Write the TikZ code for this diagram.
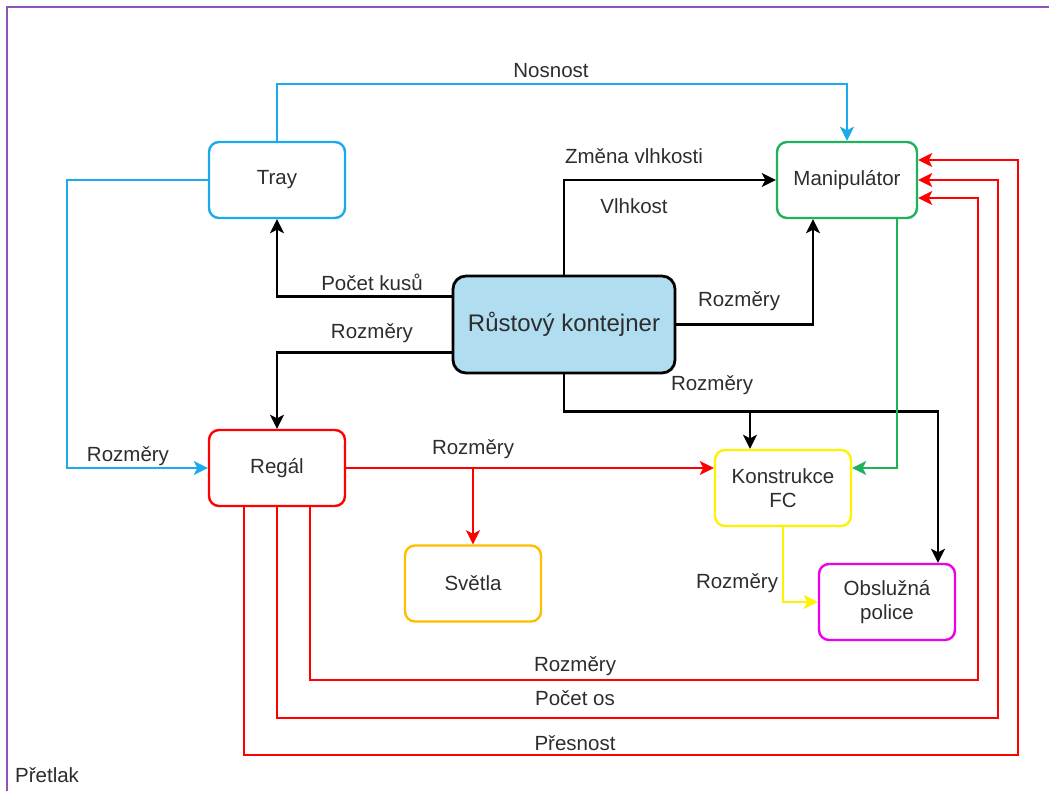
\documentclass[tikz,border=0pt]{standalone}
\usepackage{fontspec}
\setmainfont{Liberation Sans}
\usepackage{tikz}
\usetikzlibrary{arrows.meta}

\begin{document}
\begin{tikzpicture}[x=1pt,y=-1pt,line cap=rect,
	box/.style={draw, line width=2.4pt, rounded corners=10pt, minimum width=136pt, minimum height=76pt, align=center, text=txtgrey, font=\fontsize{20.5pt}{24pt}\selectfont},
	lbl/.style={text=txtgrey, inner sep=1pt, font=\fontsize{20.5pt}{24pt}\selectfont},
	wire/.style={line width=2.4pt, -{Stealth[length=14pt,width=14pt,inset=3.5pt]}}]
	\definecolor{txtgrey}{RGB}{45, 45, 45}
	\definecolor{col_purple}{RGB}{142, 84, 186}
	\definecolor{col_cyan}{RGB}{27, 170, 235}
	\definecolor{col_green}{RGB}{30, 178, 90}
	\definecolor{col_red}{RGB}{255, 0, 0}
	\definecolor{col_yellow}{RGB}{255, 242, 0}
	\definecolor{col_orange}{RGB}{255, 190, 0}
	\definecolor{col_magenta}{RGB}{235, 0, 235}
	\definecolor{col_fill}{RGB}{177, 221, 240}
	\useasboundingbox (0,0) rectangle (1049,791);
	\draw [line width=2.8pt, col_purple] (7,810) -- (7,7) -- (1070,7);
	% boxes
	\node[box, col_cyan] (tray) at (277,180) {\textcolor{txtgrey}{Tray}};
	\node[box, col_green, minimum width=140pt] (manip) at (847,180) {\textcolor{txtgrey}{Manipulátor}};
	\node[box, draw=black, fill=col_fill, line width=2.8pt, rounded corners=13pt, minimum width=222pt, minimum height=97pt, font=\fontsize{24pt}{28pt}\selectfont] (kont) at (564,324.5) {Růstový kontejner};
	\node[box, col_red] (regal) at (277,468) {\textcolor{txtgrey}{Regál}};
	\node[box, col_yellow] (konst) at (783,488) {\textcolor{txtgrey}{Konstrukce}\\\textcolor{txtgrey}{FC}};
	\node[box, col_orange] (svetla) at (473,583.5) {\textcolor{txtgrey}{Světla}};
	\node[box, col_magenta] (police) at (887,602) {\textcolor{txtgrey}{Obslužná}\\\textcolor{txtgrey}{police}};
	% corners of the long red lines
	\coordinate (r1) at (978,680);
	\coordinate (r2) at (998,718);
	\coordinate (r3) at (1018,755);
	% cyan
	\draw[wire, col_cyan] (tray.north) -- ++(0,-57) -| (manip.north);
	\draw[wire, col_cyan] (tray.west) -- ++(-141,0) |- (regal.west);
	% black
	\draw[wire] (kont.north) |- (manip.west);
	\draw[wire] ([yshift=28pt]kont.west) -| (tray.south);
	\draw[wire] ([yshift=-28pt]kont.west) -| (regal.north);
	\draw[wire] (kont.east) -| ([xshift=-34pt]manip.south);
	\draw[wire] (kont.south) -- ++(0,37) -| ([xshift=-33pt]konst.north);
	\draw[wire] (kont.south) -- ++(0,37) -| ([xshift=51pt]police.north);
	% red
	\draw[wire, col_red] (regal.east) -- (regal.east -| konst.west);
	\draw[wire, col_red] (regal.east -| svetla.north) -- (svetla.north);
	\draw[wire, col_red] ([xshift=33pt]regal.south) |- (r1) |- ([yshift=-18pt]manip.east);
	\draw[wire, col_red] (regal.south) |- (r2) |- (manip.east);
	\draw[wire, col_red] ([xshift=-33pt]regal.south) |- (r3) |- ([yshift=20pt]manip.east);
	% green, yellow
	\draw[wire, col_green] ([xshift=50pt]manip.south) |- (regal.east -| konst.east);
	\draw[wire, col_yellow] (konst.south) |- (police.west);
	% labels
	\node[lbl] (lNosnost) at (551,71) {Nosnost};
	\node[lbl] (lTrayRegal) at (128,456) {Rozměry};
	\node[lbl] (lZmena) at (634,156) {Změna vlhkosti};
	\node[lbl] (lVlhkost) at (634,206) {Vlhkost};
	\node[lbl] (lKusu) at (372,282) {Počet kusů};
	\node[lbl] (lKontRegal) at (372,333) {Rozměry};
	\node[lbl] (lKontManip) at (739,301) {Rozměry};
	\node[lbl] (lKontKonst) at (712,385) {Rozměry};
	\node[lbl] (lRegalKonst) at (473,449) {Rozměry};
	\node[lbl] (lKonstPolice) at (737,583) {Rozměry};
	\node[lbl] (lRozmery) at (575,666) {Rozměry};
	\node[lbl] (lOs) at (575,698) {Počet os};
	\node[lbl] (lPresnost) at (575,743) {Přesnost};
	\node[lbl, anchor=west] (lPretlak) at (14,775) {Přetlak};
\end{tikzpicture}
\end{document}
